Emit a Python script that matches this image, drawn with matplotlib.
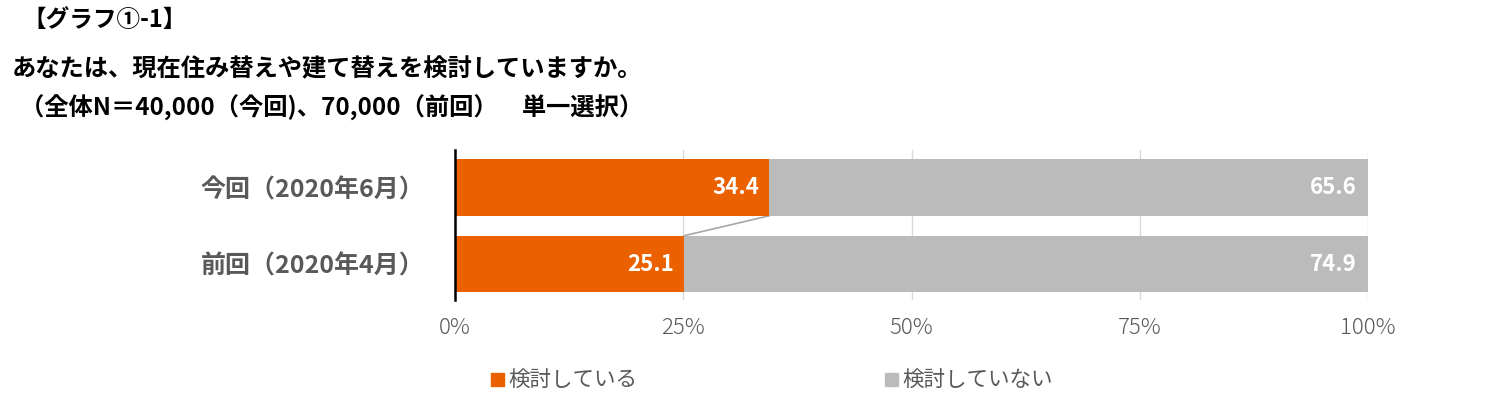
import numpy as np
import matplotlib.pyplot as plt
from matplotlib.patches import Patch

plt.rcParams['font.family'] = ['Noto Sans CJK JP', 'DejaVu Sans']

# data
categories = ['今回（2020年6月）', '前回（2020年4月）']
considering = [34.4, 25.1]
not_considering = [65.6, 74.9]
series_names = ['検討している', '検討していない']
xticks = [0, 25, 50, 75, 100]

orange = '#EB6100'
gray = '#BBBBBB'

fig = plt.figure(figsize=(14.93, 3.94), dpi=100)
ax = fig.add_axes([455 / 1493, 1 - 300 / 394, (1368 - 455) / 1493, 150 / 394])

ypos = np.array([1, 0])
h = 0.74
ax.barh(ypos, considering, height=h, color=orange, zorder=3)
ax.barh(ypos, not_considering, left=considering, height=h, color=gray, zorder=3)

# series line between the bars
ax.plot([considering[0], considering[1]], [ypos[0] - h / 2, ypos[1] + h / 2],
        color='#A6A6A6', lw=1.2, zorder=2)

for y, a, b in zip(ypos, considering, not_considering):
    ax.text(a - 1.1, y, f'{a:.1f}', ha='right', va='center', color='white',
            fontsize=16, fontweight='bold', zorder=4)
    ax.text(a + b - 1.2, y, f'{b:.1f}', ha='right', va='center', color='white',
            fontsize=16, fontweight='bold', zorder=4)

ax.set_xlim(0, 100)
ax.set_ylim(-0.47, 1.49)
ax.set_xticks(xticks)
ax.set_xticklabels([f'{t}%' for t in xticks], fontsize=16, color='#595959',
                   fontweight='light')
ax.set_yticks(ypos)
ax.set_yticklabels(categories, fontsize=18, color='#595959', fontweight='bold')
ax.tick_params(axis='both', length=0)
ax.tick_params(axis='x', pad=12)
ax.tick_params(axis='y', pad=22)
ax.grid(axis='x', color='#D9D9D9', lw=1, zorder=0)
for s in ['top', 'right', 'bottom']:
    ax.spines[s].set_visible(False)
ax.spines['left'].set_color('black')
ax.spines['left'].set_linewidth(1.8)
ax.spines['left'].set_zorder(5)

handles = [Patch(color=orange), Patch(color=gray)]
fig.legend(handles, series_names, loc='center left', bbox_to_anchor=(472 / 1493, 1 - 381 / 394),
           ncol=2, frameon=False, fontsize=15.5, handlelength=0.6, handleheight=0.6,
           handletextpad=0.2, columnspacing=11.5, labelcolor='#595959')

fig.text(22 / 1493, 1 - 20 / 394, '【グラフ①-1】', fontsize=17, fontweight='bold', va='center')
fig.text(12 / 1493, 1 - 69 / 394, 'あなたは、現在住み替えや建て替えを検討していますか。',
         fontsize=17.5, fontweight='bold', va='center')
fig.text(20 / 1493, 1 - 108 / 394, '（全体N＝40,000（今回)、70,000（前回）　単一選択）',
         fontsize=17.5, fontweight='bold', va='center')

fig.savefig('out.png', dpi=100)
